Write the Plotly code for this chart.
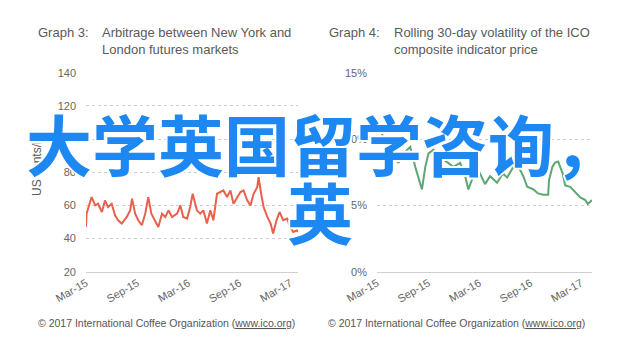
import plotly.graph_objects as go

W, H = 640, 347

# ---- data ----
arb_dates = ["2015-03-01","2015-03-03","2015-03-21","2015-04-03","2015-04-13","2015-04-27",
             "2015-05-08","2015-05-19","2015-06-01","2015-06-13","2015-06-24","2015-07-07",
             "2015-07-25","2015-08-06","2015-08-13","2015-08-24","2015-09-04","2015-09-17",
             "2015-09-29","2015-10-10","2015-10-21","2015-11-04","2015-11-15","2015-11-28",
             "2015-12-10","2015-12-21","2016-01-03","2016-01-21","2016-02-02","2016-02-12",
             "2016-02-26","2016-03-08","2016-03-17","2016-04-01","2016-04-13","2016-04-24",
             "2016-05-07","2016-05-19","2016-05-30","2016-06-12","2016-06-24","2016-07-05",
             "2016-07-18","2016-07-30","2016-08-10","2016-08-23","2016-09-04","2016-09-15",
             "2016-09-28","2016-10-10","2016-10-21","2016-11-03","2016-11-08","2016-11-17",
             "2016-11-26","2016-12-09","2016-12-21","2016-12-30","2017-01-11","2017-01-22",
             "2017-02-04","2017-02-18","2017-03-01","2017-03-12","2017-03-25","2017-03-29"]
arb_values = [47,55,65,60,61,56,63,59,61,54,51,49,53,57,64,55,51,48,55,65,55,50,47,55,
              53,57,53,55,60,53,52,59,67,57,55,57,49,57,51,67,68,69,65,69,61,65,68,69,
              63,60,67,71,77,67,59,53,49,43,51,56,51,52,47,44,45,44]

vol_dates = ["2015-03-01","2015-03-12","2015-03-22","2015-04-10","2015-04-28","2015-05-16",
             "2015-06-03","2015-06-28","2015-07-16","2015-08-09","2015-08-21","2015-09-01",
             "2015-09-19","2015-10-13","2015-11-11","2015-11-29","2015-12-24","2016-01-11",
             "2016-01-22","2016-02-09","2016-03-04","2016-03-22","2016-04-09","2016-05-04",
             "2016-05-25","2016-06-09","2016-07-01","2016-07-25","2016-08-06","2016-08-20",
             "2016-09-11","2016-09-28","2016-10-16","2016-11-03","2016-11-06","2016-11-18",
             "2016-11-27","2016-12-09","2016-12-25","2017-01-03","2017-01-21","2017-02-08",
             "2017-02-26","2017-03-16","2017-03-25","2017-04-09"]
vol_values = [10.5,11.0,10.2,9.9,9.2,8.2,8.9,9.4,7.9,6.2,7.9,8.9,9.2,8.6,8.2,7.9,8.2,7.2,
              6.2,7.2,7.4,6.6,7.2,6.7,7.4,7.1,7.9,7.7,7.2,6.4,6.2,5.9,5.8,5.8,6.9,7.9,
              8.2,8.3,7.4,6.5,6.4,6.0,5.6,5.4,5.1,5.4]

tick_dates = ["2015-03-01","2015-09-01","2016-03-01","2016-09-01","2017-03-01"]
tick_labels = ["Mar-15","Sep-15","Mar-16","Sep-16","Mar-17"]
arb_ticks = [20,40,60,80,100,120,140]
vol_ticks = [0,5,10,15]
vol_tick_labels = ["0%","5%","10%","15%"]

titles = [("Graph 3:", "Arbitrage between New York and<br>London futures markets"),
          ("Graph 4:", "Rolling 30-day volatility of the ICO<br>composite indicator price")]
source = "© 2017 International Coffee Organization (<u>www.ico.org</u>)"
overlay1 = "大学英国留学咨询，"
overlay2 = "英"

def px(x): return x / W
def py(y): return 1 - y / H

fig = go.Figure()
fig.add_trace(go.Scatter(x=arb_dates, y=arb_values, mode="lines",
                         line=dict(color="#E9614C", width=2), xaxis="x", yaxis="y"))
fig.add_trace(go.Scatter(x=vol_dates, y=vol_values, mode="lines",
                         line=dict(color="#5DA774", width=2), xaxis="x2", yaxis="y2"))

font = "Liberation Sans, Arial, sans-serif"
common_x = dict(tickvals=tick_dates, ticktext=tick_labels, tickangle=-30, automargin=False,
                showgrid=False, showline=True, linecolor="#d0d0d0", linewidth=1,
                ticks="", tickfont=dict(size=11, color="#666", family=font), zeroline=False)
common_y = dict(showgrid=True, gridcolor="#cfcfcf", griddash="dot", gridwidth=1, automargin=False,
                zeroline=False, ticks="", ticklabelstandoff=9,
                tickfont=dict(size=11, color="#666", family=font))

ybot, ytop = py(271.7), py(72.7)
fig.update_layout(
    width=W, height=H, margin=dict(l=0, r=0, t=0, b=0, autoexpand=False),
    paper_bgcolor="white", plot_bgcolor="white", showlegend=False,
    xaxis=dict(domain=[px(86), px(298)], range=["2015-03-01", "2017-03-29"], anchor="y", **common_x),
    yaxis=dict(domain=[ybot, ytop], range=[20, 140], tickvals=arb_ticks, anchor="x", **common_y),
    xaxis2=dict(domain=[px(377), px(592)], range=["2015-03-01", "2017-04-09"], anchor="y2", **common_x),
    yaxis2=dict(domain=[ybot, ytop], range=[0, 15], tickvals=vol_ticks, ticktext=vol_tick_labels,
                anchor="x2", **common_y),
)

ann = []
for (lab, txt), xl, xt in zip(titles, [36, 327], [100, 392]):
    ann.append(dict(x=px(xl), y=py(23), xref="paper", yref="paper", xanchor="left", yanchor="top",
                    text=lab, showarrow=False, font=dict(size=13, color="#5a5a5a", family=font)))
    ann.append(dict(x=px(xt), y=py(23), xref="paper", yref="paper", xanchor="left", yanchor="top",
                    text=txt, align="left", showarrow=False,
                    font=dict(size=13, color="#5a5a5a", family=font)))
for xl in [36, 326]:
    ann.append(dict(x=px(xl), y=py(323), xref="paper", yref="paper", xanchor="left", yanchor="middle",
                    text=source, showarrow=False, font=dict(size=10.5, color="#555", family=font)))
ann.append(dict(x=px(37), y=py(165), xref="paper", yref="paper", xanchor="center", yanchor="middle",
                text="US cents/lb", textangle=-90, showarrow=False,
                font=dict(size=12, color="#5a5a5a", family=font)))
shadow = "2px 0 0 #fff, -2px 0 0 #fff, 0 2px 0 #fff, 0 -2px 0 #fff, 1px 1px 0 #fff, -1px -1px 0 #fff, 1px -1px 0 #fff, -1px 1px 0 #fff"
ann.append(dict(x=px(323), y=py(142), xref="paper", yref="paper", xanchor="center", yanchor="middle",
                text=overlay1, showarrow=False,
                font=dict(size=66, color="#1E88F2", family="Noto Sans CJK SC", weight="bold", shadow=shadow)))
ann.append(dict(x=px(320), y=py(210), xref="paper", yref="paper", xanchor="center", yanchor="middle",
                text=overlay2, showarrow=False,
                font=dict(size=66, color="#1E88F2", family="Noto Sans CJK SC", weight="bold", shadow=shadow)))
fig.update_layout(annotations=ann)

fig.write_html("out.html")
